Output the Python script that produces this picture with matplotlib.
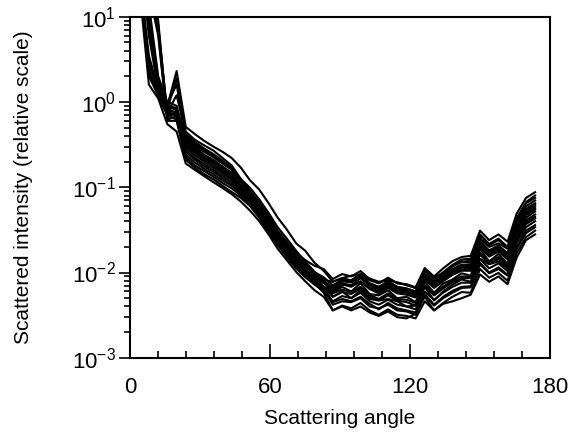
import matplotlib
matplotlib.use("Agg")
import matplotlib.pyplot as plt
from matplotlib.ticker import MultipleLocator, LogLocator, NullFormatter

plt.rcParams['font.family'] = ['Liberation Sans', 'DejaVu Sans']
plt.rcParams['mathtext.fontset'] = 'custom'
plt.rcParams['mathtext.rm'] = 'Liberation Sans'
plt.rcParams['mathtext.it'] = 'Liberation Sans'

# scattering angles (deg) shared by every curve
angles = [4.2, 8.1, 12.1, 16.0, 20.0, 23.9, 27.8, 31.8, 35.7, 39.7, 43.6,
          47.5, 51.5, 55.4, 59.4, 63.3, 67.2, 71.2, 75.1, 79.1, 83.0,
          86.9, 90.9, 94.8, 98.8, 102.7, 106.6, 110.6, 114.5, 118.5, 122.4,
          126.3, 130.3, 134.2, 138.2, 142.1, 146.0, 150.0, 153.9, 157.9,
          161.8, 165.7, 169.7, 173.6]

# scattered intensity, one list per measured curve
c1 = [25, 2.8, 1.3, 0.9, 2.3, 0.51, 0.42, 0.35, 0.30, 0.26, 0.22,
      0.17, 0.12, 0.094, 0.065, 0.044, 0.032, 0.022, 0.018, 0.013, 0.0105,
      0.0078, 0.0086, 0.0081, 0.0094, 0.0075, 0.0068, 0.0078, 0.0068, 0.0065, 0.0060,
      0.0098, 0.0078, 0.0097, 0.0119, 0.0133, 0.0138, 0.027, 0.021, 0.024,
      0.0195, 0.042, 0.065, 0.075]
c2 = [22, 2.2, 1.2, 0.82, 1.9, 0.45, 0.36, 0.31, 0.27, 0.22, 0.18,
      0.125, 0.09, 0.066, 0.046, 0.031, 0.023, 0.017, 0.014, 0.012, 0.011,
      0.0084, 0.0096, 0.0090, 0.0104, 0.0084, 0.0075, 0.0087, 0.0075, 0.0073, 0.0067,
      0.0113, 0.0090, 0.0112, 0.0136, 0.0152, 0.0157, 0.031, 0.024, 0.028,
      0.023, 0.049, 0.075, 0.0875]
c3 = [28, 3.0, 1.35, 0.85, 0.72, 0.40, 0.325, 0.275, 0.24, 0.20, 0.165,
      0.115, 0.083, 0.060, 0.042, 0.029, 0.021, 0.0154, 0.012, 0.0097, 0.0082,
      0.0058, 0.0068, 0.0060, 0.0075, 0.0056, 0.0054, 0.0062, 0.0050, 0.0052, 0.0045,
      0.0078, 0.0058, 0.0074, 0.0083, 0.0098, 0.0092, 0.019, 0.0135, 0.0165,
      0.0128, 0.029, 0.044, 0.052]
c4 = [24, 2.0, 1.2, 0.78, 0.68, 0.35, 0.29, 0.24, 0.21, 0.175, 0.148,
      0.105, 0.079, 0.058, 0.040, 0.027, 0.020, 0.0145, 0.0112, 0.0085, 0.0068,
      0.0045, 0.0049, 0.0046, 0.0052, 0.0043, 0.0037, 0.0044, 0.0038, 0.0036, 0.0034,
      0.0056, 0.0042, 0.0052, 0.0061, 0.0068, 0.0069, 0.013, 0.010, 0.0115,
      0.0094, 0.020, 0.031, 0.036]
c5 = [20, 1.6, 1.1, 0.55, 0.45, 0.19, 0.16, 0.135, 0.115, 0.098, 0.083,
      0.068, 0.053, 0.040, 0.028, 0.019, 0.014, 0.0102, 0.0079, 0.0062, 0.0052,
      0.0036, 0.0041, 0.0038, 0.0044, 0.0036, 0.0032, 0.0037, 0.0032, 0.0031, 0.0029,
      0.0046, 0.0036, 0.0044, 0.0052, 0.0059, 0.0058, 0.011, 0.0087, 0.0099,
      0.0080, 0.017, 0.026, 0.031]
c6 = [55, 8, 1.7, 0.95, 1.6, 0.38, 0.31, 0.265, 0.23, 0.19, 0.16,
      0.115, 0.086, 0.063, 0.044, 0.030, 0.022, 0.016, 0.0127, 0.0101, 0.0088,
      0.0071, 0.0082, 0.0077, 0.0090, 0.0072, 0.0065, 0.0075, 0.0065, 0.0062, 0.0057,
      0.0094, 0.0075, 0.0090, 0.0106, 0.0119, 0.0119, 0.0225, 0.0175, 0.020,
      0.0163, 0.035, 0.054, 0.0625]
c7 = [65, 10, 1.5, 0.88, 0.82, 0.32, 0.26, 0.22, 0.19, 0.16, 0.135,
      0.10, 0.075, 0.055, 0.038, 0.026, 0.019, 0.014, 0.011, 0.0088, 0.0077,
      0.0063, 0.0073, 0.0068, 0.0079, 0.0064, 0.0057, 0.0066, 0.0057, 0.0055, 0.0051,
      0.0083, 0.0066, 0.0079, 0.0094, 0.0105, 0.0105, 0.020, 0.0154, 0.0176,
      0.0143, 0.031, 0.047, 0.055]
c8 = [50, 7, 1.5, 0.8, 0.76, 0.29, 0.235, 0.20, 0.17, 0.145, 0.122,
      0.092, 0.069, 0.051, 0.035, 0.024, 0.0175, 0.0129, 0.0101, 0.0081, 0.0069,
      0.0052, 0.0059, 0.0056, 0.0065, 0.0052, 0.0047, 0.0054, 0.0047, 0.0045, 0.0041,
      0.0068, 0.0054, 0.0065, 0.0077, 0.0086, 0.0086, 0.0162, 0.0126, 0.0144,
      0.0117, 0.025, 0.039, 0.045]
c9 = [70, 12, 1.8, 0.9, 0.8, 0.26, 0.21, 0.176, 0.152, 0.128, 0.108,
      0.086, 0.066, 0.048, 0.0335, 0.023, 0.0167, 0.0123, 0.0099, 0.0083, 0.0075,
      0.0066, 0.0079, 0.0077, 0.0092, 0.0074, 0.0068, 0.0078, 0.0068, 0.0065, 0.0060,
      0.0096, 0.0078, 0.0094, 0.0110, 0.0124, 0.0124, 0.0234, 0.0182, 0.0208,
      0.0169, 0.036, 0.056, 0.065]
c10 = [60, 6, 1.4, 0.75, 0.7, 0.225, 0.18, 0.155, 0.133, 0.112, 0.097,
       0.080, 0.061, 0.045, 0.031, 0.0213, 0.0156, 0.0115, 0.0090, 0.0072, 0.0061,
       0.0046, 0.0053, 0.0050, 0.0058, 0.0046, 0.0042, 0.0048, 0.0042, 0.0040, 0.0037,
       0.0060, 0.0048, 0.0058, 0.0068, 0.0076, 0.0076, 0.0144, 0.0112, 0.0128,
       0.0104, 0.0224, 0.034, 0.040]
c11 = [110, 30, 8, 0.7, 0.72, 0.33, 0.27, 0.225, 0.195, 0.16, 0.13,
       0.095, 0.071, 0.052, 0.036, 0.0247, 0.018, 0.0133, 0.0102, 0.0075, 0.0058,
       0.0036, 0.0040, 0.0036, 0.0040, 0.0034, 0.0031, 0.0035, 0.0030, 0.0029, 0.0033,
       0.0052, 0.0036, 0.0043, 0.0046, 0.0050, 0.0055, 0.0095, 0.0078, 0.0090,
       0.0073, 0.015, 0.024, 0.028]
c12 = [140, 35, 9, 0.65, 0.78, 0.27, 0.22, 0.187, 0.16, 0.136, 0.115,
       0.090, 0.068, 0.050, 0.034, 0.0235, 0.0172, 0.0128, 0.0102, 0.0085, 0.0079,
       0.0068, 0.0083, 0.0081, 0.0097, 0.0081, 0.0075, 0.0085, 0.0075, 0.0072, 0.0066,
       0.0105, 0.0084, 0.0101, 0.0123, 0.0142, 0.0145, 0.028, 0.0217, 0.025,
       0.020, 0.043, 0.067, 0.080]
c13 = [100, 25, 7, 0.75, 1.2, 0.42, 0.34, 0.285, 0.245, 0.205, 0.17,
       0.118, 0.085, 0.062, 0.043, 0.029, 0.021, 0.0155, 0.0121, 0.0095, 0.0079,
       0.0057, 0.0063, 0.0059, 0.0068, 0.0055, 0.0049, 0.0057, 0.0049, 0.0048, 0.0044,
       0.0071, 0.0057, 0.0068, 0.0081, 0.0090, 0.0090, 0.0171, 0.0133, 0.0152,
       0.0124, 0.027, 0.041, 0.048]
c14 = [90, 20, 6, 0.6, 0.6, 0.21, 0.17, 0.143, 0.124, 0.104, 0.088,
       0.075, 0.060, 0.044, 0.030, 0.021, 0.0152, 0.0112, 0.0088, 0.0073, 0.0066,
       0.0058, 0.0075, 0.0071, 0.0086, 0.0070, 0.0062, 0.0072, 0.0062, 0.0060, 0.0055,
       0.0090, 0.0072, 0.0086, 0.0102, 0.0114, 0.0114, 0.0216, 0.0168, 0.0192,
       0.0156, 0.034, 0.052, 0.060]
c15 = [30, 3.5, 1.4, 0.9, 0.85, 0.37, 0.30, 0.26, 0.225, 0.19, 0.165,
       0.125, 0.098, 0.072, 0.050, 0.034, 0.025, 0.018, 0.0135, 0.0102, 0.0082,
       0.0052, 0.0060, 0.0050, 0.0062, 0.0049, 0.0047, 0.0049, 0.0046, 0.0040, 0.0041,
       0.0068, 0.0047, 0.0060, 0.0072, 0.0083, 0.0078, 0.0145, 0.0125, 0.0135,
       0.0112, 0.024, 0.037, 0.043]
c16 = [75, 14, 2.0, 1.0, 0.9, 0.34, 0.28, 0.23, 0.20, 0.168, 0.14,
       0.097, 0.071, 0.052, 0.036, 0.025, 0.018, 0.0136, 0.0107, 0.0090, 0.0082,
       0.0078, 0.0086, 0.0092, 0.0094, 0.0085, 0.0078, 0.0080, 0.0077, 0.0071, 0.0066,
       0.0105, 0.0088, 0.0098, 0.0118, 0.0135, 0.0130, 0.025, 0.020, 0.022,
       0.019, 0.040, 0.060, 0.070]
c17 = [120, 28, 6.5, 0.62, 0.68, 0.30, 0.25, 0.21, 0.18, 0.152, 0.128,
       0.098, 0.074, 0.055, 0.038, 0.026, 0.0185, 0.0135, 0.0104, 0.0080, 0.0063,
       0.0042, 0.0046, 0.0045, 0.0050, 0.0040, 0.0038, 0.0042, 0.0036, 0.0035, 0.0032,
       0.0055, 0.0041, 0.0050, 0.0058, 0.0066, 0.0067, 0.0125, 0.0098, 0.0110,
       0.0092, 0.019, 0.029, 0.034]
c18 = [26, 2.4, 1.15, 0.7, 0.62, 0.24, 0.195, 0.165, 0.142, 0.12, 0.104,
       0.083, 0.064, 0.047, 0.032, 0.022, 0.0162, 0.012, 0.0095, 0.0078, 0.0068,
       0.0062, 0.0072, 0.0070, 0.0078, 0.0066, 0.0060, 0.0069, 0.0059, 0.0058, 0.0053,
       0.0086, 0.0068, 0.0083, 0.0098, 0.0109, 0.0110, 0.0205, 0.0160, 0.0185,
       0.0150, 0.032, 0.049, 0.057]

curves = [c1, c2, c3, c4, c5, c6, c7, c8, c9, c10, c11, c12, c13, c14,
          c15, c16, c17, c18]

fig = plt.figure(figsize=(5.7, 4.38), dpi=100)
ax = fig.add_axes([0.228, 0.183, 0.737, 0.779])

for c in curves:
    ax.plot(angles, c, color='black', lw=1.5)

ax.set_yscale('log')
ax.set_xlim(0, 180)
ax.set_ylim(1e-3, 1e1)

ax.xaxis.set_major_locator(MultipleLocator(60))
ax.xaxis.set_minor_locator(MultipleLocator(12))
ax.yaxis.set_major_locator(LogLocator(base=10, numticks=10))
ax.yaxis.set_minor_locator(LogLocator(base=10, subs=range(2, 10), numticks=10))
ax.yaxis.set_minor_formatter(NullFormatter())

ax.tick_params(axis='x', which='both', direction='in', top=False, labelsize=16, pad=14, width=1.2)
ax.tick_params(axis='x', which='major', length=10)
ax.tick_params(axis='x', which='minor', length=5)
ax.tick_params(axis='y', which='both', direction='out', right=False, labelsize=16, pad=2, width=1.2)
ax.tick_params(axis='y', which='major', length=8)
ax.tick_params(axis='y', which='minor', length=4.5)

for s in ax.spines.values():
    s.set_linewidth(1.5)

ax.set_xlabel('Scattering angle', fontsize=15, labelpad=8)
ax.set_ylabel('Scattered intensity (relative scale)', fontsize=15, labelpad=28)

fig.savefig('out.png', dpi=100)
